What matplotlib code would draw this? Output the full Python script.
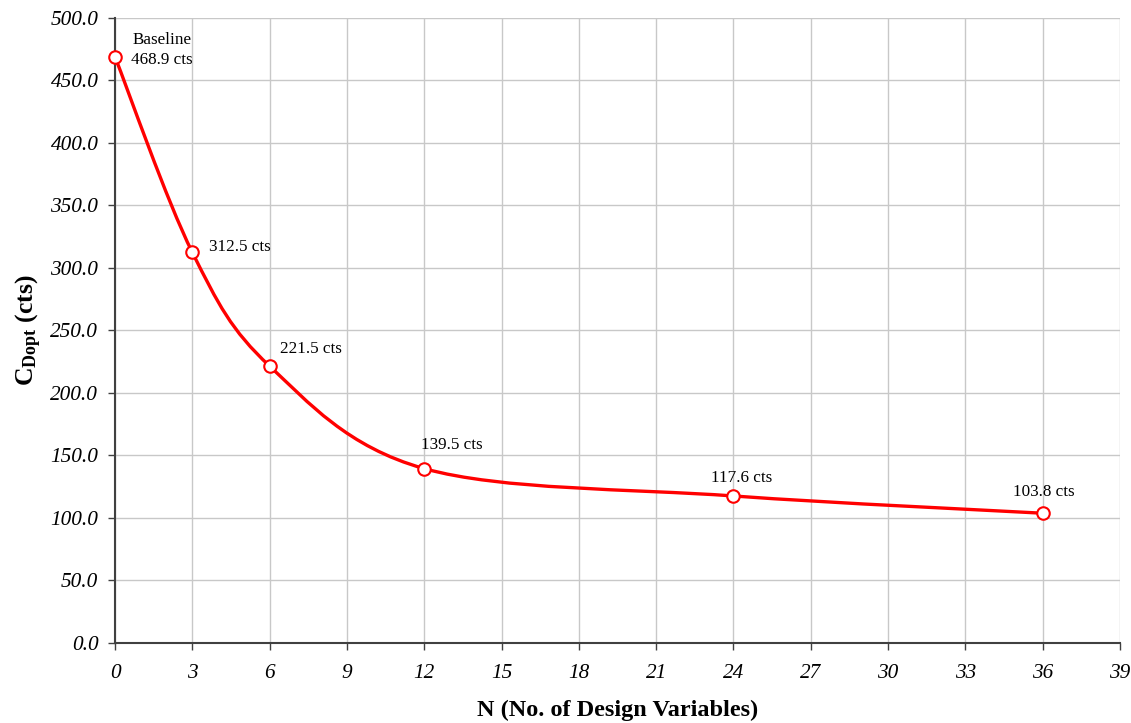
import numpy as np
import matplotlib
matplotlib.use('Agg')
from matplotlib import pyplot as plt
from matplotlib.path import Path
from matplotlib.patches import PathPatch
from matplotlib.ticker import FormatStrFormatter

plt.rcParams['font.family'] = ['Liberation Serif', 'DejaVu Serif']
plt.rcParams['mathtext.fontset'] = 'custom'
plt.rcParams['mathtext.rm'] = 'Liberation Serif'
plt.rcParams['mathtext.bf'] = 'Liberation Serif:bold'
plt.rcParams['mathtext.it'] = 'Liberation Serif:italic'

# data
n_vars  = [0, 3, 6, 12, 24, 36]
c_dopt  = [468.9, 312.5, 221.5, 139.5, 117.6, 103.8]
labels  = ['Baseline\n468.9 cts', '312.5 cts', '221.5 cts', '139.5 cts', '117.6 cts', '103.8 cts']
offsets = [(34, 5), (34, 4), (30, 12), (20, 17), (6, 13), (1, 15)]   # text offsets in points

x_ticks = np.arange(0, 40, 3)
y_ticks = np.arange(0, 501, 50)

fig = plt.figure(figsize=(11.31, 7.23), dpi=100)
ax = fig.add_axes([0.1017, 0.1107, 0.8886, 0.8644])

# smoothed line, excel style bezier through the points
pts = np.column_stack([n_vars, c_dopt]).astype(float)
ext = np.vstack([pts[0], pts, pts[-1]])
verts = [tuple(pts[0])]
codes = [Path.MOVETO]
for i in range(len(pts) - 1):
    p0, p1, p2, p3 = ext[i], ext[i + 1], ext[i + 2], ext[i + 3]
    c1 = p1 + (p2 - p0) / 6.0
    c2 = p2 - (p3 - p1) / 6.0
    verts += [tuple(c1), tuple(c2), tuple(p2)]
    codes += [Path.CURVE4] * 3
ax.add_patch(PathPatch(Path(verts, codes), facecolor='none', edgecolor='#ff0000',
                       lw=2.4, transform=ax.transData, zorder=3, capstyle='round'))

ax.plot(n_vars, c_dopt, linestyle='none', marker='o', markersize=9,
        markerfacecolor='white', markeredgecolor='#ff0000', markeredgewidth=1.5,
        zorder=4, clip_on=False)

for x, y, lab, off in zip(n_vars, c_dopt, labels, offsets):
    ax.annotate(lab, (x, y), xytext=off, textcoords='offset points',
                ha='center', va='center', fontsize=12.3, multialignment='center',
                linespacing=1.3)

ax.set_xlim(0, 39)
ax.set_ylim(0, 500)
ax.set_xticks(x_ticks)
ax.set_yticks(y_ticks)
ax.yaxis.set_major_formatter(FormatStrFormatter('%.1f'))
ax.grid(True, color='#c8c8c8', linewidth=1)
ax.set_axisbelow(True)

for s in ['top', 'right']:
    ax.spines[s].set_visible(False)
for s in ['left', 'bottom']:
    ax.spines[s].set_color('#404040')
    ax.spines[s].set_linewidth(1.5)

ax.tick_params(direction='out', length=5, width=1, color='#404040')
ax.tick_params(axis='y', pad=7)
ax.tick_params(axis='x', pad=10)
for t in ax.get_xticklabels() + ax.get_yticklabels():
    t.set_fontstyle('italic')
    t.set_fontsize(15.3)

ax.set_xlabel('N (No. of Design Variables)', fontsize=17.5, fontweight='bold')
ax.set_ylabel(r'$\mathbf{C_{Dopt}}$ (cts)', fontsize=18.5, fontweight='bold')
ax.xaxis.set_label_coords(0.5, -0.091)
ax.yaxis.set_label_coords(-0.071, 0.5)

fig.savefig('out.png', dpi=100)
